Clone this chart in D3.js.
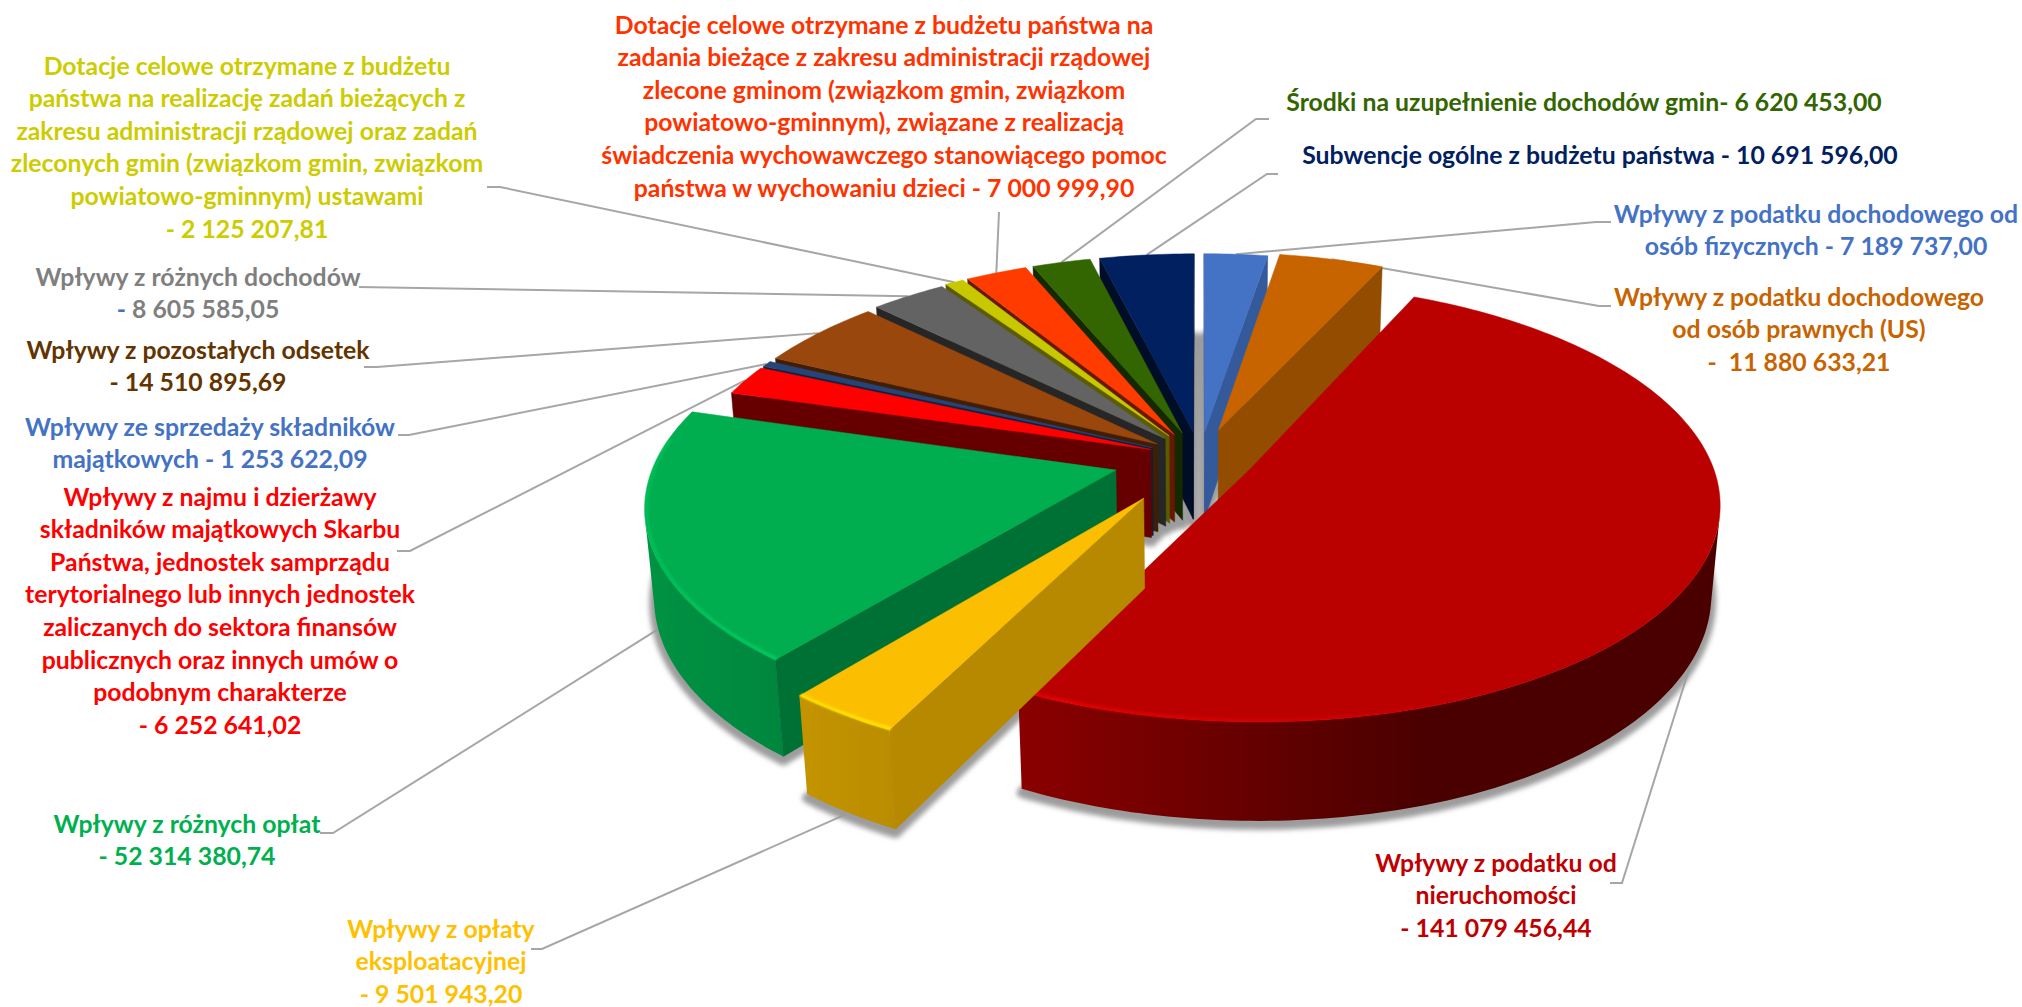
<!DOCTYPE html>
<html>
<head>
<meta charset="utf-8">
<script src="https://cdn.jsdelivr.net/npm/d3@7"></script>
<style>
    html, body { margin: 0; padding: 0; background: #fff; }
    svg { display: block; }
    text { font-family: Lato, sans-serif; font-weight: 700; white-space: pre; }
</style>
</head>
<body>
<svg id="chart" width="2022" height="1007"></svg>
<script>
// values in PLN, clockwise from 12 o'clock
var values = [7189737.00, 11880633.21, 141079456.44, 9501943.20, 52314380.74, 6252641.02,
    1253622.09, 14510895.69, 8605585.05, 2125207.81, 7000999.90, 6620453.00, 10691596.00];

// {v} gets replaced by the formatted value
var labelLines = [
    ["Wpływy z podatku dochodowego od", "osób fizycznych - {v}"],
    ["Wpływy z podatku dochodowego", "od osób prawnych (US)", "-  {v}"],
    ["Wpływy z podatku od", "nieruchomości", "- {v}"],
    ["Wpływy z opłaty", "eksploatacyjnej", "- {v}"],
    ["Wpływy z różnych opłat", "- {v}"],
    ["Wpływy z najmu i dzierżawy", "składników majątkowych Skarbu", "Państwa, jednostek samprządu",
        "terytorialnego lub innych jednostek", "zaliczanych do sektora finansów",
        "publicznych oraz innych umów o", "podobnym charakterze", "- {v}"],
    ["Wpływy ze sprzedaży składników", "majątkowych - {v}"],
    ["Wpływy z pozostałych odsetek", "- {v}"],
    ["Wpływy z różnych dochodów", "- {v}"],
    ["Dotacje celowe otrzymane z budżetu", "państwa na realizację zadań bieżących z",
        "zakresu administracji rządowej oraz zadań", "zleconych gmin (związkom gmin, związkom",
        "powiatowo-gminnym) ustawami", "- {v}"],
    ["Dotacje celowe otrzymane z budżetu państwa na", "zadania bieżące z zakresu administracji rządowej",
        "zlecone gminom (związkom gmin, związkom", "powiatowo-gminnym), związane z realizacją",
        "świadczenia wychowawczego stanowiącego pomoc", "państwa w wychowaniu dzieci - {v}"],
    ["Środki na uzupełnienie dochodów gmin- {v}"],
    ["Subwencje ogólne z budżetu państwa - {v}"]
];

var topColors = ["#4472C4", "#C86400", "#BB0000", "#FCBE00", "#00AE50", "#FF0000", "#264478",
    "#9A470E", "#636363", "#C8C800", "#FF3B00", "#336600", "#002060"];
var wallColors = ["#355A9C", "#934C00", "#5E0000", "#B78900", "#007134", "#660000", "#101F3A",
    "#401E05", "#262626", "#5B5B00", "#661800", "#142900", "#000D26"];
var labelColors = ["#4472C4", "#C86400", "#C00000", "#FFC000", "#00B050", "#FF0000", "#4472C4",
    "#633300", "#7F7F7F", "#CCCC00", "#FF3300", "#336600", "#002060"];

// how far each slice is pulled out, in pie radii
var explode = [0.126, 0.14, 0.12, 0.22, 0.19, 0.115, 0.115, 0.115, 0.12, 0.126, 0.126, 0.126, 0.126];

// label layout: centre x, y of first line, line step
var labelX = [1816, 1799, 1496, 441, 187, 220, 210, 198, 198, 247, 884, 1584, 1600];
var labelY = [214, 297, 863, 929, 824, 497, 427, 350, 277, 66, 25, 102, 155];
var lineStep = 32.6;

// leader lines: free end next to the label, then the elbow
var leaderStart = [[1611, 222], [1611, 306], [1610, 883], [531, 949], [320, 833], [397, 551], [398, 435],
    [364, 367], [359, 287], [487, 187], [999, 212], [1269, 119], [1278, 174]];
var leaderElbow = [[1596, 222], [1599, 306], [1622, 883], [542, 949], [333, 833], [410, 551], [409, 435],
    [377, 367], null, [500, 187], null, [1256, 119], [1267, 174]];

// camera
var cx = 1200, cy = 458, focal = 2760, camDist = 6;
var tilt = 27.4 * Math.PI / 180, sinT = Math.sin(tilt), cosT = Math.cos(tilt);
var thickness = 0.22;
var camPos = [0, -camDist * cosT, camDist * sinT];

var svg = d3.select("#chart");
var fmt = d3.formatLocale({decimal: ",", thousands: " ", grouping: [3], currency: ["", ""]}).format(",.2f");

var defs = svg.append("defs");
defs.append("filter").attr("id", "soft")
    .attr("x", "-20%").attr("y", "-20%").attr("width", "140%").attr("height", "140%")
    .append("feGaussianBlur").attr("stdDeviation", 2.5);
defs.append("filter").attr("id", "glow").attr("filterUnits", "userSpaceOnUse")
    .attr("x", 0).attr("y", 0).attr("width", 2022).attr("height", 1007)
    .append("feGaussianBlur").attr("stdDeviation", 0.8);

var pie = d3.pie().sort(null).value(function (d) { return d; });
var arcs = pie(values);
arcs.forEach(function (d, i) {
    d.idx = i;
    d.mid = (d.startAngle + d.endAngle) / 2;
    d.e = explode[i];
});

function project(p) {
    var u = p[1] * sinT + p[2] * cosT;
    var w = camDist + p[1] * cosT - p[2] * sinT;
    return [cx + focal * p[0] / w, cy - focal * u / w];
}

// world position of a point of slice d
function world(d, r, theta, z) {
    return [r * Math.sin(theta) + d.e * Math.sin(d.mid),
            r * Math.cos(theta) + d.e * Math.cos(d.mid), z];
}

function samples(d) {
    var n = Math.max(2, Math.ceil((d.endAngle - d.startAngle) / (Math.PI / 180)));
    return d3.range(n + 1).map(function (k) {
        return d.startAngle + (d.endAngle - d.startAngle) * k / n;
    });
}

function faces(n, p) {
    var c = [camPos[0] - p[0], camPos[1] - p[1], camPos[2] - p[2]];
    return c[0] * n[0] + c[1] * n[1] + c[2] * n[2] > 0;
}

var line = d3.line();
function closed(pts) { return line(pts) + "Z"; }

function facePath(d, z) {
    var pts = [world(d, 0, 0, z)];
    samples(d).forEach(function (t) { pts.push(world(d, 1, t, z)); });
    return closed(pts.map(project));
}

function quad(d, a, b) {
    return closed([a, b, [b[0], b[1], -thickness], [a[0], a[1], -thickness]].map(project));
}

// leaders go under the slices; front slices get them at the foot of the wall
svg.append("g").selectAll("path").data(arcs).enter().append("path")
    .attr("d", function (d, i) {
        var pts = [leaderStart[i]];
        if (leaderElbow[i]) pts.push(leaderElbow[i]);
        pts.push(project(world(d, 1, d.mid, Math.cos(d.mid) < 0 ? -thickness : 0)));
        return line(pts);
    })
    .style("fill", "none")
    .style("stroke", "#A6A6A6")
    .style("stroke-width", "2px");

// soft shadow from the bottom faces
svg.append("g")
    .attr("transform", "translate(0,4)")
    .attr("filter", "url(#soft)")
    .selectAll("path").data(arcs).enter().append("path")
    .attr("d", function (d) { return facePath(d, -thickness); })
    .style("fill", "#9C9C9C")
    .style("stroke", "#9C9C9C")
    .style("stroke-width", "10px")
    .style("stroke-linejoin", "round");

// shade of the curved wall, by how far right it is turned
var sideShade = d3.scaleLinear().domain([-1, -0.45, 0.3, 1]).range([0.85, 0.74, 0.4, 0.4]).clamp(true);
var rimAlpha = d3.scaleLinear().domain([-1, -0.4, 0.5]).range([0.4, 1, 0]).clamp(true);

// painter's order: far slices first
var order = arcs.slice().sort(function (a, b) { return Math.cos(b.mid) - Math.cos(a.mid); });

var slice = svg.append("g").selectAll("g").data(order).enter().append("g").attr("class", "slice");

slice.each(function (d) {
    var g = d3.select(this);
    var ts = samples(d);
    var top = topColors[d.idx];
    var col = d3.rgb(top);

    // curved outer wall, one shape with a sideways gradient
    var vis = ts.filter(function (t) {
        return faces([Math.sin(t), Math.cos(t), 0], world(d, 1, t, -thickness / 2));
    });
    if (vis.length > 1) {
        var xs = vis.map(function (t) { return project(world(d, 1, t, -thickness / 2))[0]; });
        var x0 = d3.min(xs), x1 = d3.max(xs);
        var grad = defs.append("linearGradient").attr("id", "wall" + d.idx)
            .attr("gradientUnits", "userSpaceOnUse")
            .attr("x1", x0).attr("x2", x1).attr("y1", 0).attr("y2", 0);
        vis.map(function (t, k) { return {t: t, x: xs[k]}; })
            .sort(function (a, b) { return a.x - b.x; })
            .forEach(function (s) {
                var f = sideShade(Math.sin(s.t));
                grad.append("stop")
                    .attr("offset", (s.x - x0) / (x1 - x0))
                    .attr("stop-color", d3.rgb(col.r * f, col.g * f, col.b * f).formatHex());
            });
        var upper = vis.map(function (t) { return project(world(d, 1, t, 0)); });
        var lower = vis.map(function (t) { return project(world(d, 1, t, -thickness)); }).reverse();
        g.append("path")
            .attr("d", closed(upper.concat(lower)))
            .style("fill", "url(#wall" + d.idx + ")");
    }

    // flat radial walls
    [[d.startAngle, -1], [d.endAngle, 1]].forEach(function (w) {
        var t = w[0], n = [w[1] * Math.cos(t), -w[1] * Math.sin(t), 0];
        if (!faces(n, world(d, 0.5, t, -thickness / 2))) return;
        g.append("path")
            .attr("d", quad(d, world(d, 0, t, 0), world(d, 1, t, 0)))
            .style("fill", wallColors[d.idx])
            .style("stroke", wallColors[d.idx])
            .style("stroke-width", "0.5px");
    });

    // top
    g.append("path")
        .attr("d", facePath(d, 0))
        .style("fill", top)
        .style("stroke", top)
        .style("stroke-width", "0.5px");

    // small bevel light on the front of the rim
    var rim = d3.rgb(top).brighter(0.6).formatHex();
    var rimG = g.append("g").attr("filter", "url(#glow)");
    for (var j = 0; j < ts.length - 1; j++) {
        var tj = (ts[j] + ts[j + 1]) / 2;
        if (Math.cos(tj) > 0.15) continue;
        rimG.append("path")
            .attr("d", line([world(d, 0.996, ts[j], 0), world(d, 0.996, ts[j + 1], 0)].map(project)))
            .style("fill", "none")
            .style("stroke", rim)
            .style("stroke-width", "3px")
            .style("opacity", rimAlpha(Math.sin(tj)));
    }
});

// labels
var label = svg.append("g").selectAll("text").data(arcs).enter().append("text")
    .attr("text-anchor", "middle")
    .style("font-size", "24.8px")
    .style("fill", function (d) { return labelColors[d.idx]; });

label.each(function (d) {
    var t = d3.select(this);
    labelLines[d.idx].forEach(function (s, n) {
        var str = s.replace("{v}", fmt(values[d.idx]));
        var ts = t.append("tspan")
            .attr("x", labelX[d.idx])
            .attr("y", labelY[d.idx] + n * lineStep)
            .attr("dy", ".35em");
        // the dash of the grey label is blue in the original
        if (d.idx === 8 && n === 1) {
            ts.append("tspan").style("fill", "#4472C4").text("- ");
            ts.append("tspan").text(str.slice(2));
        } else {
            ts.text(str);
        }
    });
});
</script>
</body>
</html>
